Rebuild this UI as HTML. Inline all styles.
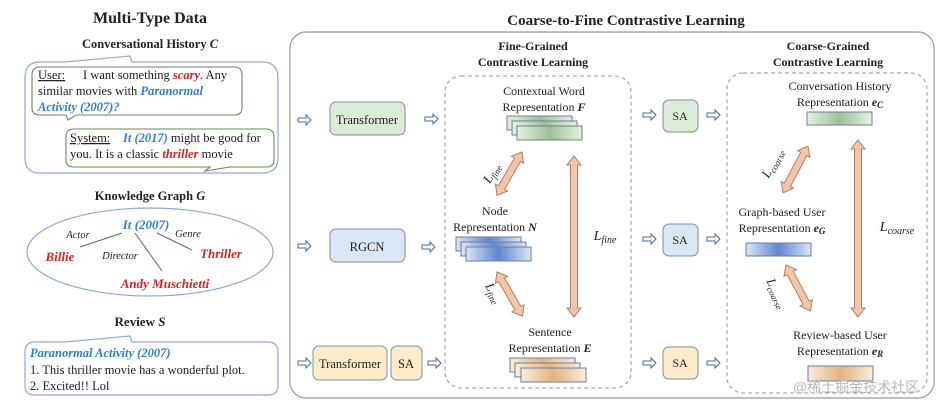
<!DOCTYPE html>
<html><head><meta charset="utf-8"><style>
html,body{margin:0;padding:0;background:#fff}
svg{display:block}
text{font-family:"Liberation Serif",serif;fill:#222}
.b{font-weight:bold}
.bl{fill:#2f7fd0;font-style:italic;font-weight:bold}
.rd{fill:#e02020;font-style:italic;font-weight:bold}
</style></head><body>
<svg width="951" height="412" viewBox="0 0 951 412" xmlns="http://www.w3.org/2000/svg">
<defs>
<linearGradient id="gG" x1="0" x2="1"><stop offset="0" stop-color="#e6efe1"/><stop offset=".5" stop-color="#9fc196"/><stop offset="1" stop-color="#e6efe1"/></linearGradient>
<linearGradient id="gB" x1="0" x2="1"><stop offset="0" stop-color="#dbe5f6"/><stop offset=".5" stop-color="#5f86cf"/><stop offset="1" stop-color="#dbe5f6"/></linearGradient>
<linearGradient id="gY" x1="0" x2="1"><stop offset="0" stop-color="#f8ecdc"/><stop offset=".5" stop-color="#e2b47f"/><stop offset="1" stop-color="#f8ecdc"/></linearGradient>
<g id="ha"><polygon points="0,-2 8,-2 8,-5 13,0 8,5 8,2 0,2" fill="#fff" stroke="#4a6a9a" stroke-width="1"/></g>
</defs>

<!-- LEFT -->
<text x="150" y="23" text-anchor="middle" class="b" font-size="16">Multi-Type Data</text>
<text x="150" y="48" text-anchor="middle" class="b" font-size="12.5">Conversational History <tspan font-style="italic">C</tspan></text>
<path d="M40,62 L65,62 L130,56 L132,62 L262,62 Q278,62 278,78 L278,158 Q278,173 262,173 L40,173 Q25,173 25,158 L25,78 Q25,62 40,62 Z" fill="#fff" stroke="#8fa8d8" stroke-width="1.2"/>
<path d="M40,67 L234,67 Q242,67 242,75 L242,108 Q242,115 234,115 L76,115 L68,120 L66,115 L40,115 Q32,115 32,108 L32,75 Q32,67 40,67 Z" fill="#fff" stroke="#6a8a5a" stroke-width="1.1"/>
<text font-size="12.5"><tspan x="38" y="79" text-decoration="underline">User:</tspan><tspan x="83" y="79">I want something </tspan><tspan class="rd">scary</tspan><tspan>. Any</tspan></text>
<text font-size="12.5" x="38" y="95">similar movies with <tspan class="bl">Paranormal</tspan></text>
<text font-size="12.5" x="38" y="111" class="bl">Activity (2007)?</text>
<path d="M74,129 L266,129 Q274,129 274,137 L274,160 Q274,167 266,167 L230,167 L205,171 L210,167 L74,167 Q66,167 66,160 L66,137 Q66,129 74,129 Z" fill="#fff" stroke="#6a8a5a" stroke-width="1.1"/>
<text font-size="12.5"><tspan x="70" y="142" text-decoration="underline">System:</tspan><tspan x="123" y="142" class="bl">It (2017)</tspan><tspan> might be good for</tspan></text>
<text font-size="12.5" x="70" y="158">you. It is a classic <tspan class="rd">thriller</tspan> movie</text>

<text x="150" y="200" text-anchor="middle" class="b" font-size="12.5">Knowledge Graph <tspan font-style="italic">G</tspan></text>
<ellipse cx="150" cy="252" rx="123" ry="44" fill="#fff" stroke="#8fa8d8" stroke-width="1.2"/>
<line x1="122" y1="233" x2="80" y2="247" stroke="#4a6a9a"/>
<line x1="135" y1="233" x2="162" y2="271" stroke="#4a6a9a"/>
<line x1="157" y1="233" x2="192" y2="250" stroke="#4a6a9a"/>
<text x="146" y="229" text-anchor="middle" class="bl" font-size="13">It (2007)</text>
<text x="78" y="238" text-anchor="middle" font-size="10.5" font-style="italic">Actor</text>
<text x="188" y="237" text-anchor="middle" font-size="10.5" font-style="italic">Genre</text>
<text x="120" y="259" text-anchor="middle" font-size="10.5" font-style="italic">Director</text>
<text x="60" y="261" text-anchor="middle" class="rd" font-size="13">Billie</text>
<text x="221" y="258" text-anchor="middle" class="rd" font-size="13">Thriller</text>
<text x="165" y="288" text-anchor="middle" class="rd" font-size="13">Andy Muschietti</text>

<text x="140" y="326" text-anchor="middle" class="b" font-size="13">Review <tspan font-style="italic">S</tspan></text>
<path d="M35,342 L65,342 L130,336 L132,342 L268,342 Q278,342 278,352 L278,386 Q278,395 268,395 L35,395 Q25,395 25,386 L25,352 Q25,342 35,342 Z" fill="#fff" stroke="#8fa8d8" stroke-width="1.2"/>
<text x="30" y="357" class="bl" font-size="12.5">Paranormal Activity (2007)</text>
<text x="30" y="374" font-size="12.5">1.  This thriller movie has a wonderful plot.</text>
<text x="30" y="390" font-size="12.5">2.  Excited!! Lol</text>

<!-- RIGHT PANEL -->
<text x="626" y="25" text-anchor="middle" class="b" font-size="15">Coarse-to-Fine Contrastive Learning</text>
<rect x="290" y="32" width="644" height="366" rx="16" fill="none" stroke="#999" stroke-width="1.2"/>

<use href="#ha" x="298" y="120"/><use href="#ha" x="298" y="246"/><use href="#ha" x="298" y="363"/>
<rect x="330" y="102" width="75" height="33" rx="6" fill="#dcebd6" stroke="#7a8fa8"/>
<text x="367" y="124" text-anchor="middle" font-size="12.5">Transformer</text>
<rect x="330" y="229" width="75" height="33" rx="6" fill="#dae6f4" stroke="#7a8fa8"/>
<text x="367" y="251" text-anchor="middle" font-size="12.5">RGCN</text>
<rect x="313" y="346" width="74" height="34" rx="6" fill="#fdecc9" stroke="#7a8fa8"/>
<text x="350" y="368" text-anchor="middle" font-size="12.5">Transformer</text>
<rect x="391" y="346" width="31" height="34" rx="6" fill="#fdecc9" stroke="#7a8fa8"/>
<text x="406" y="368" text-anchor="middle" font-size="12.5">SA</text>
<use href="#ha" x="425" y="119"/><use href="#ha" x="422" y="247"/><use href="#ha" x="428" y="363"/>

<!-- Fine box -->
<text x="533" y="50" text-anchor="middle" class="b" font-size="12">Fine-Grained</text>
<text x="533" y="66" text-anchor="middle" class="b" font-size="12">Contrastive Learning</text>
<rect x="445" y="76" width="186" height="312" rx="16" fill="none" stroke="#999" stroke-dasharray="4,3"/>
<text x="544" y="95" text-anchor="middle" font-size="12">Contextual Word</text>
<text x="544" y="111" text-anchor="middle" font-size="12">Representation <tspan font-weight="bold" font-style="italic">F</tspan></text>
<g stroke="#6d7f9a" stroke-width="1"><rect x="507" y="116" width="65" height="14" fill="url(#gG)"/><rect x="512" y="121" width="65" height="14" fill="url(#gG)"/><rect x="517" y="126" width="65" height="14" fill="url(#gG)"/></g>
<text x="495" y="215" text-anchor="middle" font-size="12">Node</text>
<text x="495" y="231" text-anchor="middle" font-size="12">Representation <tspan font-weight="bold" font-style="italic">N</tspan></text>
<g stroke="#6d7f9a" stroke-width="1"><rect x="456" y="237" width="65" height="14" fill="url(#gB)"/><rect x="461" y="242" width="65" height="14" fill="url(#gB)"/><rect x="466" y="247" width="65" height="14" fill="url(#gB)"/></g>
<text x="550" y="336" text-anchor="middle" font-size="12">Sentence</text>
<text x="550" y="352" text-anchor="middle" font-size="12">Representation <tspan font-weight="bold" font-style="italic">E</tspan></text>
<g stroke="#6d7f9a" stroke-width="1"><rect x="510" y="358" width="65" height="14" fill="url(#gY)"/><rect x="515" y="363" width="65" height="14" fill="url(#gY)"/><rect x="521" y="368" width="65" height="14" fill="url(#gY)"/></g>

<g fill="#f4c6a8" stroke="#b08068" stroke-width="1">
<polygon transform="translate(574,156) rotate(90)" points="0,0 9,-7 9,-3.5 152,-3.5 152,-7 161,0 152,7 152,3.5 9,3.5 9,7"/>
<polygon transform="translate(522,152) rotate(120)" points="0,0 9,-7 9,-3.5 41,-3.5 41,-7 50,0 41,7 41,3.5 9,3.5 9,7"/>
<polygon transform="translate(497,272) rotate(60)" points="0,0 9,-7 9,-3.5 42,-3.5 42,-7 51,0 42,7 42,3.5 9,3.5 9,7"/>
<polygon transform="translate(858,140) rotate(90)" points="0,0 9,-7 9,-3.5 168,-3.5 168,-7 177,0 168,7 168,3.5 9,3.5 9,7"/>
<polygon transform="translate(808,146) rotate(118)" points="0,0 9,-7 9,-3.5 44,-3.5 44,-7 53,0 44,7 44,3.5 9,3.5 9,7"/>
<polygon transform="translate(786,265) rotate(62)" points="0,0 9,-7 9,-3.5 43,-3.5 43,-7 52,0 43,7 43,3.5 9,3.5 9,7"/>
</g>
<text x="605" y="240" text-anchor="middle" font-size="14" font-style="italic">L<tspan font-size="10" dy="3">fine</tspan></text>
<text transform="translate(495,175) rotate(-60)" text-anchor="middle" font-size="13" font-style="italic">L<tspan font-size="9" dy="3">fine</tspan></text>
<text transform="translate(490,295) rotate(60)" text-anchor="middle" font-size="13" font-style="italic">L<tspan font-size="9" dy="3">fine</tspan></text>

<!-- middle SA -->
<use href="#ha" x="643" y="115"/><use href="#ha" x="643" y="239"/><use href="#ha" x="643" y="363"/>
<rect x="663" y="100" width="35" height="32" rx="6" fill="#dcebd6" stroke="#7a8fa8"/>
<text x="680" y="120" text-anchor="middle" font-size="12">SA</text>
<rect x="663" y="224" width="35" height="32" rx="6" fill="#dae6f4" stroke="#7a8fa8"/>
<text x="680" y="244" text-anchor="middle" font-size="12">SA</text>
<rect x="663" y="347" width="35" height="32" rx="6" fill="#fdecc9" stroke="#7a8fa8"/>
<text x="680" y="367" text-anchor="middle" font-size="12">SA</text>
<use href="#ha" x="707" y="115"/><use href="#ha" x="707" y="239"/><use href="#ha" x="707" y="363"/>

<!-- Coarse box -->
<text x="828" y="50" text-anchor="middle" class="b" font-size="12">Coarse-Grained</text>
<text x="828" y="66" text-anchor="middle" class="b" font-size="12">Contrastive Learning</text>
<rect x="727" y="73" width="200" height="320" rx="16" fill="none" stroke="#999" stroke-dasharray="4,3"/>
<text x="840" y="90" text-anchor="middle" font-size="12">Conversation History</text>
<text x="840" y="106" text-anchor="middle" font-size="12">Representation <tspan font-weight="bold" font-style="italic">e<tspan font-size="9" dy="2">C</tspan></tspan></text>
<rect x="807" y="112" width="65" height="13" fill="url(#gG)" stroke="#6d7f9a"/>
<text x="782" y="216" text-anchor="middle" font-size="12">Graph-based User</text>
<text x="782" y="232" text-anchor="middle" font-size="12">Representation <tspan font-weight="bold" font-style="italic">e<tspan font-size="9" dy="2">G</tspan></tspan></text>
<rect x="746" y="243" width="65" height="13" fill="url(#gB)" stroke="#6d7f9a"/>
<text x="840" y="339" text-anchor="middle" font-size="12">Review-based User</text>
<text x="840" y="355" text-anchor="middle" font-size="12">Representation <tspan font-weight="bold" font-style="italic">e<tspan font-size="9" dy="2">R</tspan></tspan></text>
<rect x="808" y="366" width="65" height="15" fill="url(#gY)" stroke="#6d7f9a"/>
<text x="897" y="231" text-anchor="middle" font-size="14" font-style="italic">L<tspan font-size="10" dy="3">coarse</tspan></text>
<text transform="translate(776,165) rotate(-62)" text-anchor="middle" font-size="13" font-style="italic">L<tspan font-size="9" dy="3">coarse</tspan></text>
<text transform="translate(773,295) rotate(65)" text-anchor="middle" font-size="13" font-style="italic">L<tspan font-size="9" dy="3">coarse</tspan></text>

<text x="856" y="392" text-anchor="middle" font-size="14" style="font-family:'Liberation Sans','Noto Sans CJK SC',sans-serif;fill:#b8b8b8">@稀土掘金技术社区</text>
</svg>
</body></html>
